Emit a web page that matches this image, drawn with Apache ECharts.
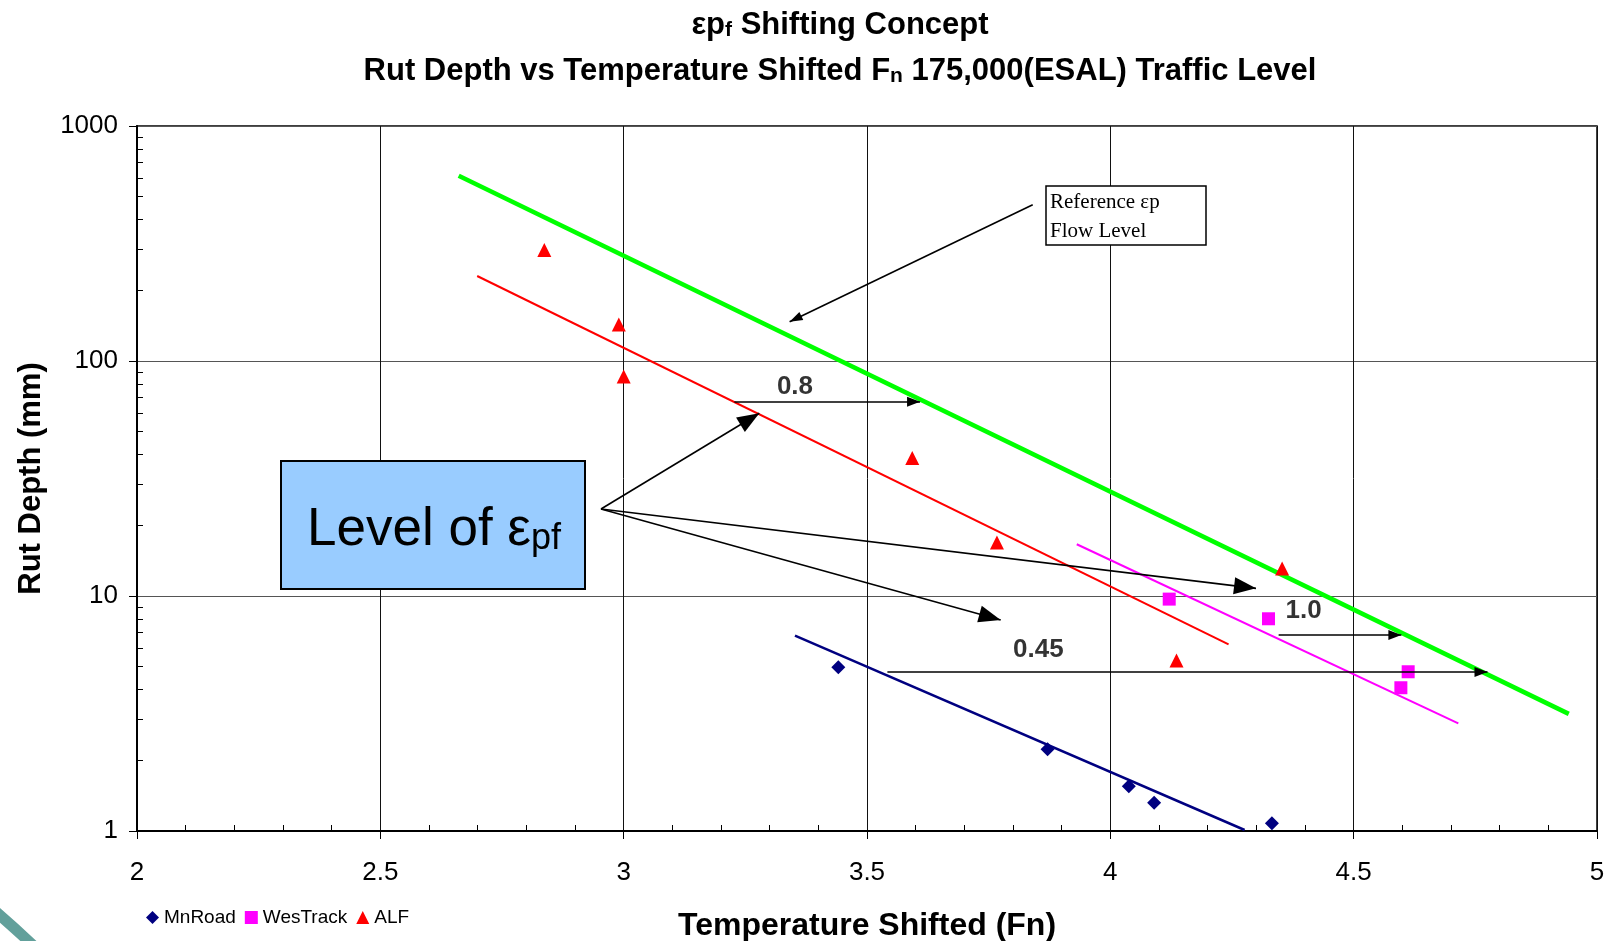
<!DOCTYPE html>
<html>
<head>
<meta charset="utf-8">
<title>Rut Depth vs Temperature Shifted Fn</title>
<script src="https://cdn.jsdelivr.net/npm/echarts@6/dist/echarts.min.js"></script>
<style>
  html, body { margin: 0; padding: 0; background: #fff; }
  #main { width: 1606px; height: 941px; }
</style>
</head>
<body>
<div id="main"></div>
<script>
// Measured rut depths (mm) against temperature-shifted flow number
const mnRoadX = [3.441, 3.871, 4.038, 4.090, 4.332];
const mnRoadY = [4.97, 2.23, 1.55, 1.32, 1.08];
const wesTrackX = [4.121, 4.325, 4.597, 4.612];
const wesTrackY = [9.7, 8.0, 4.07, 4.76];
const alfX = [2.837, 2.990, 3.000, 3.593, 3.767, 4.136, 4.353];
const alfY = [297, 143, 86, 38.7, 16.9, 5.31, 13.1];

// Fitted trend lines (end points)
const refLineX = [2.661, 4.942];
const refLineY = [614, 3.15];
const alfTrendX = [2.699, 4.243];
const alfTrendY = [230, 6.23];
const wesTrendX = [3.931, 4.715];
const wesTrendY = [16.6, 2.87];
const mnTrendX = [3.352, 4.276];
const mnTrendY = [6.78, 1.01];

// Shift arrows: [x1, y1, x2, y2]
const shiftArrows = [
  [3.2275, 67.1, 3.609, 67.1],
  [4.3458, 6.82, 4.598, 6.82],
  [3.5419, 4.75, 4.775, 4.75]
];
const referenceArrow = [3.8405, 462, 3.341, 147];
const levelArrowOrigin = [2.9534, 23.46];
const levelArrowTipsX = [3.2787, 4.2993, 3.7747];
const levelArrowTipsY = [59.9, 10.78, 7.91];

// Shift factor labels
const shiftLabelText = ['0.8', '1.0', '0.45'];
const shiftLabelX = [3.352, 4.397, 3.852];
const shiftLabelY = [78.0, 8.61, 5.91];

const seriesNames = ['MnRoad', 'WesTrack', 'ALF'];

const SANS = "'Liberation Sans', Arial, Helvetica, sans-serif";
const SERIF = "'Liberation Serif', 'Times New Roman', serif";

const pairs = (xs, ys) => xs.map((x, i) => [x, ys[i]]);

const chart = echarts.init(document.getElementById('main'), null, { renderer: 'canvas' });

const arrowLine = { color: '#000', width: 1.6, type: 'solid' };

// One arrow: plain start, triangular head whose tip sits on the end point
function arrow(from, to, headSize) {
  return [
    { coord: from, symbol: 'none' },
    { coord: to, symbol: 'triangle', symbolSize: headSize, symbolOffset: [0, '50%'] }
  ];
}

const titleRich = {
  b: { fontFamily: SANS, fontSize: 31, fontWeight: 'bold', color: '#000', lineHeight: 35, verticalAlign: 'bottom' },
  s: { fontFamily: SANS, fontSize: 21, fontWeight: 'bold', color: '#000', lineHeight: 17, verticalAlign: 'bottom' }
};

const option = {
  backgroundColor: '#fff',
  animation: false,
  title: [
    {
      text: '{b|εp}{s|f}{b| Shifting Concept}',
      left: 840, top: 6, textAlign: 'center', padding: 0,
      textStyle: { rich: titleRich }
    },
    {
      text: '{b|Rut Depth vs Temperature Shifted F}{s|n}{b| 175,000(ESAL) Traffic Level}',
      left: 840, top: 52, textAlign: 'center', padding: 0,
      textStyle: { rich: titleRich }
    }
  ],
  legend: {
    data: seriesNames,
    left: 141, top: 903,
    itemWidth: 13, itemHeight: 13, itemGap: 9,
    textStyle: { fontFamily: SANS, fontSize: 19, color: '#000' }
  },
  grid: {
    left: 137, right: 9, top: 126, bottom: 110,
    show: true, borderColor: '#000', borderWidth: 1.5,
    containLabel: false, outerBoundsMode: 'none'
  },
  xAxis: {
    type: 'value', min: 2, max: 5, interval: 0.5,
    name: 'Temperature Shifted (Fn)', nameLocation: 'middle', nameGap: 79,
    nameTextStyle: { fontFamily: SANS, fontSize: 32, fontWeight: 'bold', color: '#000' },
    axisLine: { show: true, onZero: false, lineStyle: { color: '#000', width: 2 } },
    axisTick: { show: true, length: 8, lineStyle: { color: '#000', width: 1 } },
    minorTick: { show: true, splitNumber: 5, length: -6, lineStyle: { color: '#000', width: 1 } },
    axisLabel: { fontFamily: SANS, fontSize: 26, color: '#000', margin: 29 },
    splitLine: { show: true, lineStyle: { color: '#111', width: 1 } }
  },
  yAxis: {
    type: 'log', logBase: 10, min: 1, max: 1000,
    name: 'Rut Depth (mm)', nameLocation: 'middle', nameGap: 90,
    nameTextStyle: { fontFamily: SANS, fontSize: 31, fontWeight: 'bold', color: '#000' },
    axisLine: { show: true, lineStyle: { color: '#000', width: 2 } },
    axisTick: { show: true, length: 8, lineStyle: { color: '#000', width: 1 } },
    minorTick: { show: true, splitNumber: 9, length: -6, lineStyle: { color: '#000', width: 1 } },
    axisLabel: { fontFamily: SANS, fontSize: 26, color: '#000', margin: 19, formatter: v => String(v) },
    splitLine: { show: true, lineStyle: { color: '#555', width: 1 } }
  },
  series: [
    {
      name: 'Reference εp flow level', type: 'line', z: 3,
      data: pairs(refLineX, refLineY), showSymbol: false, silent: true,
      lineStyle: { color: '#00FF00', width: 4.5 }
    },
    {
      name: 'ALF trend', type: 'line', z: 3,
      data: pairs(alfTrendX, alfTrendY), showSymbol: false, silent: true,
      lineStyle: { color: '#FF0000', width: 2 }
    },
    {
      name: 'WesTrack trend', type: 'line', z: 3,
      data: pairs(wesTrendX, wesTrendY), showSymbol: false, silent: true,
      lineStyle: { color: '#FF00FF', width: 2 }
    },
    {
      name: 'MnRoad trend', type: 'line', z: 3,
      data: pairs(mnTrendX, mnTrendY), showSymbol: false, silent: true,
      lineStyle: { color: '#000080', width: 2.5 }
    },
    {
      name: 'MnRoad', type: 'scatter', z: 4,
      symbol: 'diamond', symbolSize: 14,
      itemStyle: { color: '#000080', opacity: 1 },
      data: pairs(mnRoadX, mnRoadY)
    },
    {
      name: 'WesTrack', type: 'scatter', z: 4,
      symbol: 'rect', symbolSize: 13,
      itemStyle: { color: '#FF00FF', opacity: 1 },
      data: pairs(wesTrackX, wesTrackY)
    },
    {
      name: 'ALF', type: 'scatter', z: 4,
      symbol: 'triangle', symbolSize: 14,
      itemStyle: { color: '#FF0000', opacity: 1 },
      data: pairs(alfX, alfY)
    },
    {
      name: 'Shift arrows', type: 'line', data: [], z: 5,
      itemStyle: { color: '#000' },
      markLine: {
        silent: true, animation: false,
        label: { show: false },
        lineStyle: arrowLine,
        itemStyle: { color: '#000' },
        emphasis: { disabled: true },
        data: shiftArrows.map(a => arrow([a[0], a[1]], [a[2], a[3]], [10, 13]))
          .concat([arrow([referenceArrow[0], referenceArrow[1]], [referenceArrow[2], referenceArrow[3]], [9, 13])])
          .concat(levelArrowTipsX.map((x, i) => arrow(levelArrowOrigin, [x, levelArrowTipsY[i]], [17, 22])))
      }
    },
    {
      name: 'Shift factors', type: 'scatter', z: 6, silent: true,
      symbolSize: 1, itemStyle: { color: 'rgba(0,0,0,0)' },
      label: {
        show: true, position: 'inside', formatter: p => p.name,
        fontFamily: SANS, fontSize: 26, fontWeight: 'bold', color: '#000'
      },
      data: shiftLabelText.map((t, i) => ({ name: t, value: [shiftLabelX[i], shiftLabelY[i]] }))
    }
  ],
  graphic: [
    {
      type: 'rect', z: 100,
      shape: { x: 281, y: 461, width: 304, height: 128 },
      style: { fill: '#99CCFF', stroke: '#000', lineWidth: 2 }
    },
    {
      type: 'text', z: 101, x: 434, y: 527,
      style: {
        text: '{a|Level of ε}{s|pf}',
        align: 'center', verticalAlign: 'middle',
        rich: {
          a: { fontFamily: SANS, fontSize: 53, fill: '#000', lineHeight: 60, verticalAlign: 'bottom' },
          s: { fontFamily: SANS, fontSize: 36, fill: '#000', lineHeight: 24, verticalAlign: 'bottom' }
        }
      }
    },
    {
      type: 'rect', z: 100,
      shape: { x: 1046, y: 186, width: 160, height: 59 },
      style: { fill: '#fff', stroke: '#000', lineWidth: 1.5 }
    },
    {
      type: 'text', z: 101, x: 1050, y: 188,
      style: {
        text: 'Reference εp\nFlow Level',
        font: '21px ' + SERIF, fill: '#000', lineHeight: 29,
        align: 'left', verticalAlign: 'top'
      }
    },
    {
      type: 'bezierCurve', z: 100,
      shape: { x1: -12, y1: 905, cpx1: 14, cpy1: 927, x2: 40, y2: 952 },
      style: { stroke: '#62A09B', lineWidth: 11, fill: null }
    }
  ]
};

chart.setOption(option);
</script>
</body>
</html>
